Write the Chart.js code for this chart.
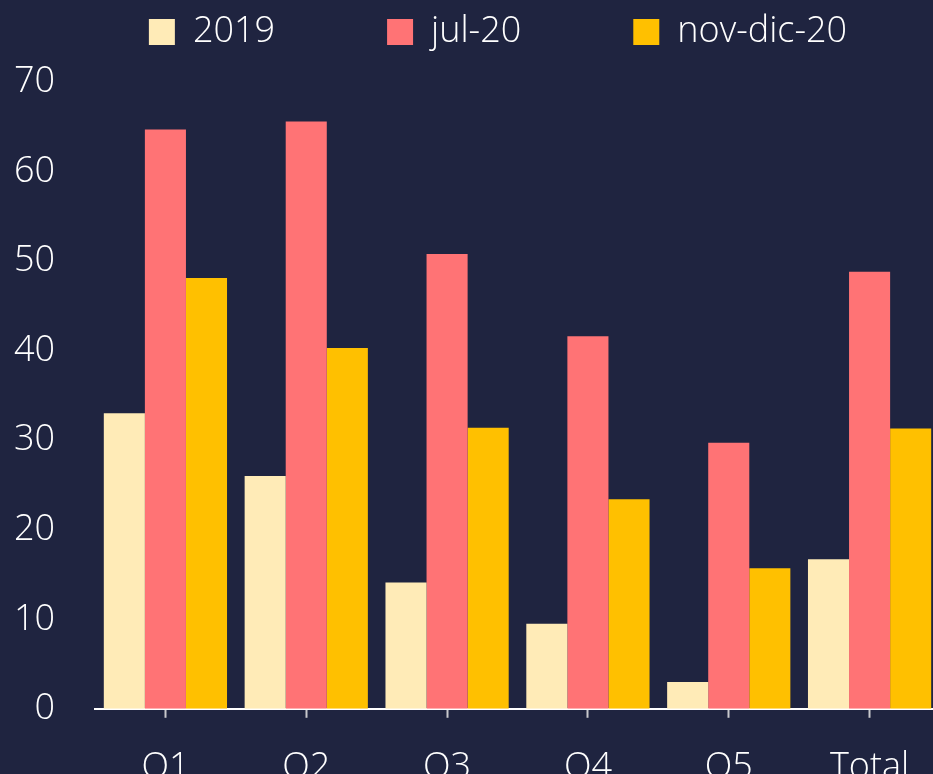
<!DOCTYPE html>
<html>
<head>
<meta charset="utf-8">
<script src="https://cdn.jsdelivr.net/npm/chart.js@4"></script>
<style>
  html, body { margin: 0; padding: 0; background: #1f2440; overflow: hidden; }
  #wrap { width: 940px; height: 817px; position: relative; }
</style>
</head>
<body>
<div id="wrap"><canvas id="chart"></canvas></div>
<script>
// datos
const categories = ['Q1', 'Q2', 'Q3', 'Q4', 'Q5', 'Total'];
const serie2019 = [33.0, 26.0, 14.1, 9.5, 3.0, 16.7];
const serieJul20 = [64.7, 65.6, 50.8, 41.6, 29.7, 48.8];
const serieNovDic20 = [48.1, 40.3, 31.4, 23.4, 15.7, 31.3];
const yTicks = [0, 10, 20, 30, 40, 50, 60, 70];

Chart.defaults.font.family = "'Open Sans', sans-serif";
Chart.defaults.font.weight = 300;
Chart.defaults.color = '#ffffff';

// mueve la leyenda (derecha y arriba), como en el original
const legendShift = {
    id: 'legendShift',
    afterLayout(chart) {
        const lg = chart.legend;
        if (lg) {
            lg.left += 28;
            lg.right += 28;
            lg.top -= 22;
            lg.bottom -= 22;
        }
    }
};

const ctx = document.getElementById('chart').getContext('2d');
new Chart(ctx, {
    type: 'bar',
    data: {
        labels: categories,
        datasets: [
            { label: '2019', data: serie2019, backgroundColor: '#ffebb7' },
            { label: 'jul-20', data: serieJul20, backgroundColor: '#ff7375' },
            { label: 'nov-dic-20', data: serieNovDic20, backgroundColor: '#ffc000' }
        ]
    },
    plugins: [legendShift],
    options: {
        responsive: true,
        maintainAspectRatio: false,
        animation: false,
        layout: { padding: { top: -76, right: 0, bottom: 0, left: 0 } },
        datasets: {
            bar: { categoryPercentage: 0.875, barPercentage: 1.0 }
        },
        plugins: {
            tooltip: { enabled: false },
            legend: {
                position: 'top',
                labels: {
                    boxWidth: 26,
                    boxHeight: 26,
                    padding: 112,
                    color: '#ffffff',
                    font: { size: 36, weight: 300 }
                }
            }
        },
        scales: {
            x: {
                grid: {
                    display: true,
                    offset: false,
                    drawOnChartArea: false,
                    drawTicks: true,
                    tickLength: 9,
                    tickWidth: 2,
                    color: '#c8c8cc'
                },
                border: { display: true, color: '#ffffff', width: 2 },
                ticks: {
                    color: '#ffffff',
                    padding: 28,
                    font: { size: 36, weight: 300 }
                }
            },
            y: {
                min: 0,
                max: 70,
                afterFit: function(scale) { scale.width = 95; },
                afterBuildTicks: function(scale) {
                    scale.ticks = yTicks.map(v => ({ value: v }));
                },
                grid: { display: false, drawTicks: false },
                border: { display: false },
                ticks: {
                    color: '#ffffff',
                    padding: 40,
                    font: { size: 36, weight: 300 }
                }
            }
        }
    }
});
</script>
</body>
</html>
